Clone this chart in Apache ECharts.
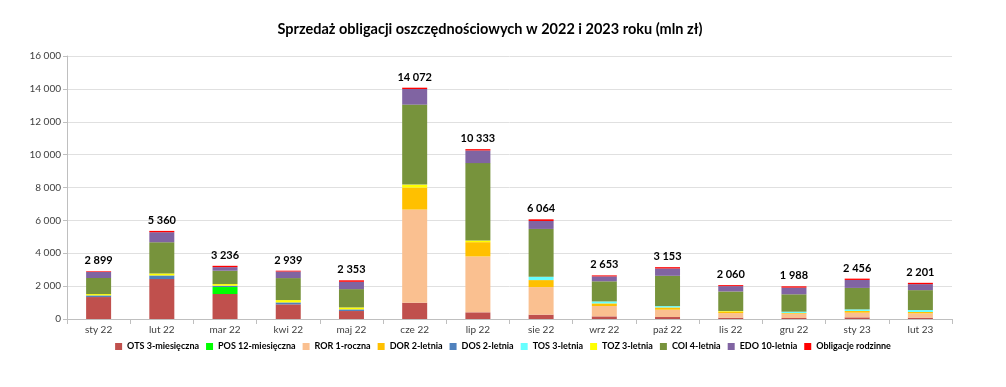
<!DOCTYPE html>
<html><head><meta charset="utf-8">
<script src="https://cdn.jsdelivr.net/npm/echarts@6/dist/echarts.min.js"></script>
<style>html,body{margin:0;padding:0;background:#fff}#c{width:1006px;height:387px}</style>
</head><body><div id="c"></div>
<script>
const categories = ['sty 22','lut 22','mar 22','kwi 22','maj 22','cze 22','lip 22','sie 22','wrz 22','paź 22','lis 22','gru 22','sty 23','lut 23'];
const totals = [2899,5360,3236,2939,2353,14072,10333,6064,2653,3153,2060,1988,2456,2201];
const ots = [1336,2430,1520,890,485,990,405,263,160,120,80,60,100,80];
const pos = [0,0,425,0,0,0,0,0,0,0,0,0,0,0];
const ror = [0,0,0,0,0,5670,3400,1680,630,445,280,265,285,265];
const dor = [0,0,0,0,0,1336,870,425,160,140,80,40,100,80];
const dos = [100,220,80,120,100,0,0,0,0,0,0,0,0,0];
const tos = [0,0,0,0,0,0,0,200,120,80,0,80,100,120];
const toz = [80,120,100,140,120,180,100,0,0,0,40,0,0,0];
const coi = [978,1900,811,1339,1113,4866,4708,2911,1223,1843,1195,1058,1306,1211];
const edo = [365,610,220,400,445,950,770,485,300,445,325,405,485,365];
const rod = [40,80,80,50,90,80,80,100,60,80,60,80,80,80];
const yTicks = [0,2000,4000,6000,8000,10000,12000,14000,16000];

const fmt = v => String(v).replace(/\B(?=(\d{3})+(?!\d))/g, ' ');
const defs = [
  ['OTS 3-miesięczna', ots, '#C0504D'],
  ['POS 12-miesięczna', pos, '#00FF00'],
  ['ROR 1-roczna', ror, '#FAC090'],
  ['DOR 2-letnia', dor, '#FFC000'],
  ['DOS 2-letnia', dos, '#4F81BD'],
  ['TOS 3-letnia', tos, '#66FFFF'],
  ['TOZ 3-letnia', toz, '#FFFF00'],
  ['COI 4-letnia', coi, '#77933C'],
  ['EDO 10-letnia', edo, '#8064A2'],
  ['Obligacje rodzinne', rod, '#FF0000']
];
const font = 'Lato, "Open Sans", sans-serif';
const series = defs.map((d, i) => ({
  name: d[0], type: 'bar', stack: 's', data: d[1], barWidth: 25,
  itemStyle: { color: d[2] },
  label: i === defs.length - 1 ? {
    show: true, position: 'top', distance: 5,
    formatter: p => fmt(totals[p.dataIndex]),
    fontFamily: font, fontWeight: 'bold', fontSize: 11, color: '#000'
  } : { show: false }
}));

const chart = echarts.init(document.getElementById('c'));
chart.setOption({
  animation: false,
  title: {
    text: 'Sprzedaż obligacji oszczędnościowych w 2022 i 2023 roku (mln zł)',
    left: 485, top: 17, textAlign: 'center',
    textStyle: { fontFamily: font, fontWeight: 'bold', fontSize: 14.5, color: '#000' }
  },
  legend: {
    bottom: 31, left: 'center', itemWidth: 7, itemHeight: 7, itemGap: 7,
    icon: 'rect',
    textStyle: { fontFamily: font, fontWeight: 'bold', fontSize: 9, color: '#000' },
    data: defs.map(d => d[0])
  },
  grid: { left: 67, right: 54, top: 56, bottom: 68 },
  xAxis: {
    type: 'category', data: categories,
    axisLine: { lineStyle: { color: '#BFBFBF' } },
    axisTick: { show: true, alignWithLabel: false, length: 5, lineStyle: { color: '#BFBFBF' } },
    axisLabel: { fontFamily: font, fontSize: 10, color: '#404040', margin: 6 }
  },
  yAxis: {
    type: 'value', min: yTicks[0], max: yTicks[yTicks.length - 1], interval: 2000,
    axisLine: { show: true, lineStyle: { color: '#BFBFBF' } },
    axisTick: { show: true, length: 4, lineStyle: { color: '#BFBFBF' } },
    splitLine: { lineStyle: { color: '#E0E0E0' } },
    axisLabel: { fontFamily: font, fontSize: 10, color: '#404040', formatter: v => fmt(v), margin: 6 }
  },
  series
});
</script></body></html>
